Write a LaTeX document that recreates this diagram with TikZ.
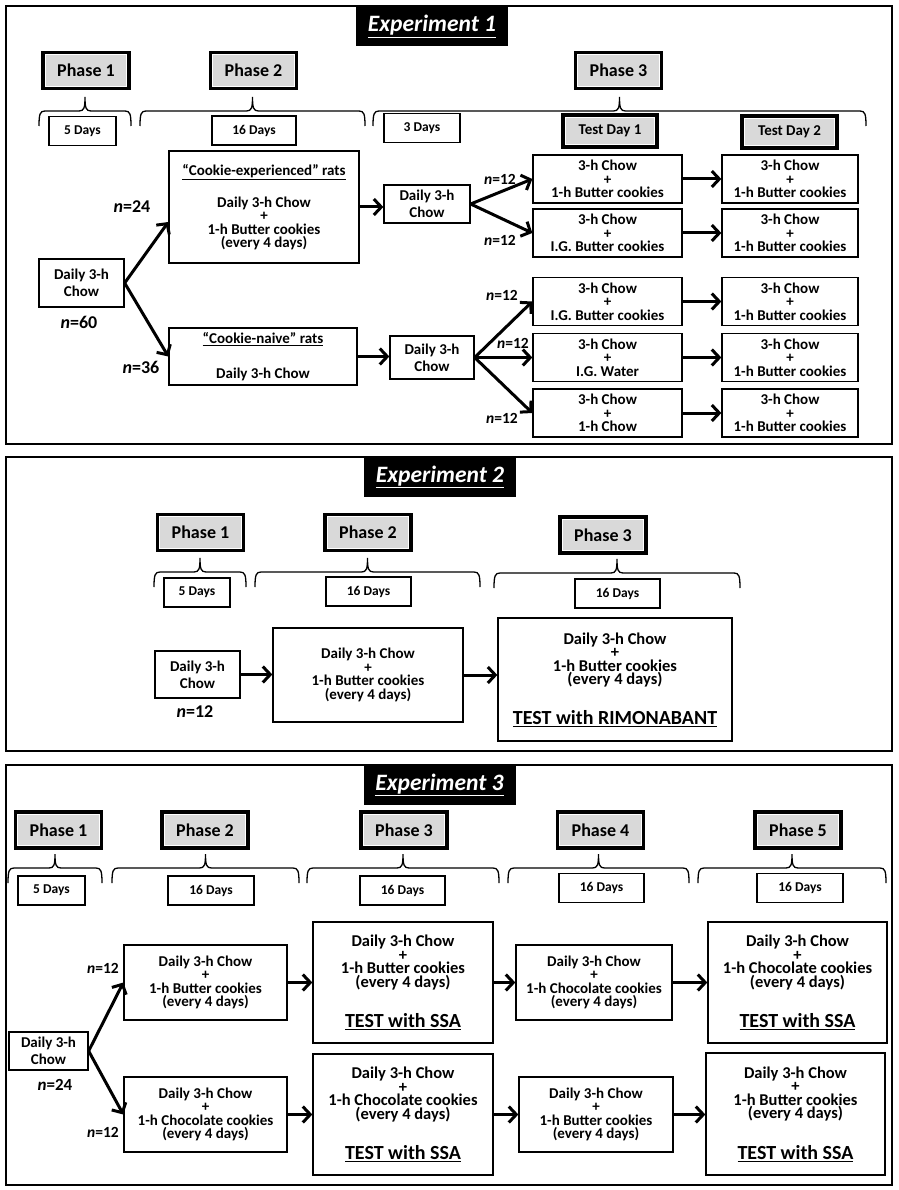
\documentclass[tikz,border=0pt]{standalone}
\usepackage{fontspec}
\setmainfont{Carlito}
\usetikzlibrary{arrows.meta}
\definecolor{phasegray}{RGB}{217,217,217}

% brace under a phase box: left x, right x, y of the straight part
\newcommand{\daybrace}[3]{%
  \draw[curly] (#1,#3+15) .. controls (#1,#3+3) and (#1+1,#3) .. (#1+6,#3)
    -- ({(#1+#2)/2-6},#3) .. controls ({(#1+#2)/2-1},#3) and ({(#1+#2)/2},#3-3) .. ({(#1+#2)/2},#3-14)
    .. controls ({(#1+#2)/2},#3-3) and ({(#1+#2)/2+1},#3) .. ({(#1+#2)/2+6},#3)
    -- (#2-6,#3) .. controls (#2-1,#3) and (#2,#3+3) .. (#2,#3+15);}
\newcommand{\testline}[1]{{\fontsize{20}{20}\selectfont\underline{#1}}}

\begin{document}
\begin{tikzpicture}[x=1pt, y=-1pt]
    \tikzstyle{panel}=[draw, line width=1.6pt]
    \tikzstyle{exptitle}=[fill=black, text=white, inner sep=0pt, minimum width=152pt, minimum height=39pt, font=\fontsize{23.5}{25}\selectfont\bfseries\itshape]
    \tikzstyle{phasebox}=[draw, line width=3.2pt, fill=phasegray, inner sep=0pt, minimum width=86pt, minimum height=36pt, font=\fontsize{18}{20}\selectfont\bfseries,
        path picture={\draw[white, line width=5.2pt] (path picture bounding box.south west) rectangle (path picture bounding box.north east);}]
    \tikzstyle{daysbox}=[draw, line width=1.3pt, inner sep=0pt, minimum height=29pt, font=\fontsize{13.5}{15}\selectfont\bfseries]
    \tikzstyle{cell}=[draw, line width=1.3pt, inner sep=0pt, align=center, font=\fontsize{15}{13.5}\selectfont\bfseries]
    \tikzstyle{bigcell}=[cell, font=\fontsize{16.5}{13.5}\selectfont\bfseries]
    \tikzstyle{twoline}=[cell, font=\fontsize{15}{17}\selectfont\bfseries]
    \tikzstyle{nlabel}=[inner sep=0pt, font=\fontsize{18}{20}\selectfont\bfseries]
    \tikzstyle{nsmall}=[nlabel, font=\fontsize{15.5}{17}\selectfont\bfseries]
    \tikzstyle{curly}=[line width=1.3pt]
    \tikzstyle{flow}=[line width=3pt, -{Straight Barb[length=7.5pt,width=16pt]}]

    \useasboundingbox (0,0) rectangle (898,1190);
    \draw[panel] (6,6) rectangle (892,444);
    \draw[panel] (6,457) rectangle (892,751);
    \draw[panel] (6,765) rectangle (892,1185);

    % Experiment 1
    \node[exptitle] (title1) at (432,26.5) {\underline{Experiment 1}};
    \foreach \name/\x/\txt in {p1/86/Phase 1, p2/253.5/Phase 2, p3/618.5/Phase 3}
    \node[phasebox] (A-\name) at (\x,70.5) {\txt};
    \node[phasebox, minimum width=94pt, minimum height=32pt, font=\fontsize{15}{17}\selectfont\bfseries] (A-td1) at (610,131) {Test Day 1};
    \node[phasebox, minimum width=95pt, minimum height=32pt, font=\fontsize{15}{17}\selectfont\bfseries] (A-td2) at (789.5,132) {Test Day 2};
    \foreach \name/\x/\y/\w/\txt in {d1/82.5/131/67/5 Days, d2/254/130.5/84/16 Days, d3/422/128/76/3 Days}
    \node[daysbox, minimum width=\w pt] (A-\name) at (\x,\y) {\txt};
    \foreach \a/\b in {39/131, 140/365, 373/866}
    \daybrace{\a}{\b}{111};

    \node[twoline, minimum width=85pt, minimum height=48pt] (A-chow) at (81.5,283) {Daily 3-h\\Chow};
    \node[nlabel] (A-n60) at (79,322) {\textit{n}=60};
    \node[cell, minimum width=190pt, minimum height=112pt] (A-exp) at (264,207) {\underline{“Cookie-experienced” rats}\\[16pt]Daily 3-h Chow\\+\\1-h Butter cookies\\(every 4 days)};
    \node[cell, minimum width=188pt, minimum height=57pt] (A-naive) at (263,356.5) {\underline{“Cookie-naive” rats}\\[21pt]Daily 3-h Chow};
    \node[nlabel] (A-n24) at (132,207) {\textit{n}=24};
    \node[nlabel] (A-n36) at (141,367) {\textit{n}=36};
    \node[twoline, minimum width=86pt, minimum height=38pt] (A-chow2) at (427,204) {Daily 3-h\\Chow};
    \node[twoline, minimum width=84pt, minimum height=43pt] (A-chow3) at (432,357.5) {Daily 3-h\\Chow};

    \foreach \name/\y/\txt in {r1/179/1-h Butter cookies, r2/233/I.G. Butter cookies, r3/301.5/I.G. Butter cookies, r4/357.5/I.G. Water, r5/413/1-h Chow}{
        \node[cell, minimum width=149pt, minimum height=48pt] (A-\name) at (607.5,\y) {3-h Chow\\+\\\txt};
        \node[cell, minimum width=136pt, minimum height=48pt] (B-\name) at (790,\y) {3-h Chow\\+\\1-h Butter cookies};
        \draw[flow] (A-\name) -- (B-\name);
    }
    \foreach \name/\x/\y in {a/500/179, b/500/240, c/502/295, d/513/343, e/502/418}
    \node[nsmall] (A-n12\name) at (\x,\y) {\textit{n}=12};

    \draw[flow] (A-chow.east) -- ([yshift=-15pt]A-exp.west);
    \draw[flow] (A-chow.east) -- (A-naive.west);
    \draw[flow] (A-exp.east) -- (A-exp.east -| A-chow2.west);
    \draw[flow] (A-naive.east) -- (A-naive.east -| A-chow3.west);
    \foreach \name in {r1, r2}
    \draw[flow] (A-chow2.east) -- (A-\name.west);
    \foreach \name in {r3, r4, r5}
    \draw[flow] (A-chow3.east) -- (A-\name.west);

    % Experiment 2
    \node[exptitle] (title2) at (440,477) {\underline{Experiment 2}};
    \foreach \name/\x/\y/\txt in {p1/200.5/532.5/Phase 1, p2/368/532.5/Phase 2, p3/603/535/Phase 3}
    \node[phasebox] (E-\name) at (\x,\y) {\txt};
    \foreach \name/\x/\y/\w/\txt in {d1/197/592.5/66/5 Days, d2/368.5/591.5/85/16 Days, d3/617.5/593.5/85/16 Days}
    \node[daysbox, minimum width=\w pt] (E-\name) at (\x,\y) {\txt};
    \foreach \a/\b/\y in {154/246/572, 255/480/572, 494/740/573}
    \daybrace{\a}{\b}{\y};

    \node[twoline, minimum width=85pt, minimum height=47pt] (E-chow) at (197.5,674.5) {Daily 3-h\\Chow};
    \node[nlabel] (E-n12) at (195,712) {\textit{n}=12};
    \node[cell, minimum width=190pt, minimum height=94pt] (E-mid) at (368,675) {Daily 3-h Chow\\+\\1-h Butter cookies\\(every 4 days)};
    \node[bigcell, minimum width=234pt, minimum height=123pt] (E-test) at (615,679.5) {Daily 3-h Chow\\+\\1-h Butter cookies\\(every 4 days)\\[22pt]\testline{TEST with RIMONABANT}};
    \draw[flow] (E-chow.east) -- (E-chow.east -| E-mid.west);
    \draw[flow] (E-mid.east) -- (E-mid.east -| E-test.west);

    % Experiment 3
    \node[exptitle, minimum height=40pt] (title3) at (439.5,785) {\underline{Experiment 3}};
    \foreach \name/\x/\txt in {p1/58.5/Phase 1, p2/205/Phase 2, p3/404/Phase 3, p4/600.5/Phase 4, p5/798/Phase 5}
    \node[phasebox] (C-\name) at (\x,830) {\txt};
    \foreach \name/\x/\y/\w/\txt in {d1/51.5/890.5/67/5 Days, d2/211/890.5/86/16 Days, d3/402.5/890.5/85/16 Days, d4/601.5/888/85/16 Days, d5/800/888/86/16 Days}
    \node[daysbox, minimum width=\w pt] (C-\name) at (\x,\y) {\txt};
    \foreach \a/\b in {8/102, 112/299, 307/499, 508/689, 698/886}
    \daybrace{\a}{\b}{868};

    \node[twoline, minimum width=79pt, minimum height=38pt] (C-chow) at (48.5,1051) {Daily 3-h\\Chow};
    \node[nlabel, font=\fontsize{17}{19}\selectfont\bfseries] (C-n24) at (55,1085) {\textit{n}=24};
    \node[nsmall] (C-n12a) at (103,968) {\textit{n}=12};
    \node[nsmall] (C-n12b) at (103,1132) {\textit{n}=12};

    \node[cell, minimum width=163pt, minimum height=75pt] (C-b2) at (205.5,982.5) {Daily 3-h Chow\\+\\1-h Butter cookies\\(every 4 days)};
    \node[cell, minimum width=163pt, minimum height=75pt] (C-c2) at (205.5,1114.5) {Daily 3-h Chow\\+\\1-h Chocolate cookies\\(every 4 days)};
    \node[bigcell, minimum width=180pt, minimum height=121pt] (C-b3) at (403,982.5) {Daily 3-h Chow\\+\\1-h Butter cookies\\(every 4 days)\\[23pt]\testline{TEST with SSA}};
    \node[bigcell, minimum width=180pt, minimum height=121pt] (C-c3) at (403,1114.5) {Daily 3-h Chow\\+\\1-h Chocolate cookies\\(every 4 days)\\[23pt]\testline{TEST with SSA}};
    \node[cell, minimum width=156pt, minimum height=75pt] (C-b4) at (594,982.5) {Daily 3-h Chow\\+\\1-h Chocolate cookies\\(every 4 days)};
    \node[cell, minimum width=154pt, minimum height=75pt] (C-c4) at (596,1114.5) {Daily 3-h Chow\\+\\1-h Butter cookies\\(every 4 days)};
    \node[bigcell, minimum width=179pt, minimum height=121pt] (C-b5) at (797.5,982.5) {Daily 3-h Chow\\+\\1-h Chocolate cookies\\(every 4 days)\\[23pt]\testline{TEST with SSA}};
    \node[bigcell, minimum width=179pt, minimum height=122pt] (C-c5) at (795.5,1114) {Daily 3-h Chow\\+\\1-h Butter cookies\\(every 4 days)\\[23pt]\testline{TEST with SSA}};

    \draw[flow] (C-chow.east) -- (C-b2.west);
    \draw[flow] (C-chow.east) -- (C-c2.west);
    \foreach \from/\to in {b2/b3, b3/b4, b4/b5, c2/c3, c3/c4, c4/c5}
    \draw[flow] (C-\from.east) -- (C-\from.east -| C-\to.west);
\end{tikzpicture}
\end{document}
